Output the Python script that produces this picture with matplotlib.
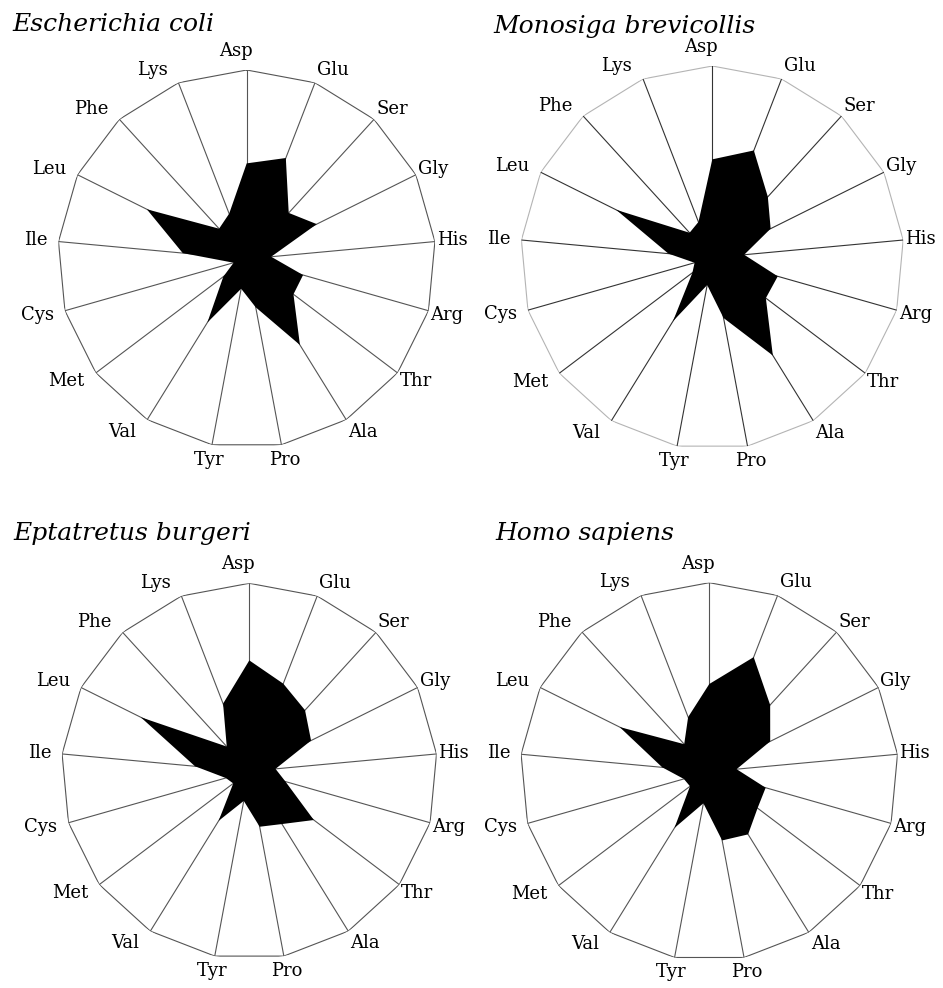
import numpy as np
import matplotlib
matplotlib.use("Agg")
import matplotlib.pyplot as plt

amino = ["Asp", "Glu", "Ser", "Gly", "His", "Arg", "Thr", "Ala", "Pro",
         "Tyr", "Val", "Met", "Cys", "Ile", "Leu", "Phe", "Lys"]

# relative composition (outer ring = 1)
ecoli = [0.506, 0.573, 0.33, 0.414, 0.13, 0.31, 0.31, 0.535, 0.26,
         0.16, 0.395, 0.155, 0.072, 0.34, 0.59, 0.217, 0.257]
monosiga = [0.513, 0.60, 0.43, 0.34, 0.167, 0.355, 0.35, 0.60, 0.32,
            0.145, 0.39, 0.13, 0.096, 0.23, 0.56, 0.176, 0.20]
eptatretus = [0.59, 0.50, 0.44, 0.367, 0.14, 0.20, 0.43, 0.33, 0.30,
              0.16, 0.31, 0.107, 0.13, 0.29, 0.645, 0.178, 0.386]
homo = [0.464, 0.65, 0.478, 0.36, 0.145, 0.31, 0.32, 0.39, 0.37,
        0.17, 0.35, 0.128, 0.14, 0.25, 0.53, 0.197, 0.31]

species = ["Escherichia coli", "Monosiga brevicollis",
           "Eptatretus burgeri", "Homo sapiens"]
data = [ecoli, monosiga, eptatretus, homo]

# axes boxes in pixels: center x, center y (from top), radius
W, H = 943, 988
boxes = [(246.7, 259.0, 189.0), (712.3, 257.7, 191.7),
         (249.3, 771.3, 188.0), (709.3, 771.7, 189.0)]
titles_xy = [(12, 31), (493, 33), (13, 540), (495, 540)]
ring_col = ["#555555", "#b4b4b4", "#555555", "#555555"]
spoke_col = ["#555555", "#333333", "#555555", "#555555"]

plt.rcParams['font.family'] = ['DejaVu Serif']

fig = plt.figure(figsize=(W / 100, H / 100), dpi=100)
fig.patch.set_facecolor("white")

n = len(amino)
theta = np.arange(n) * 2 * np.pi / n

for i in range(4):
    cx, cy, R = boxes[i]
    ax = fig.add_axes([(cx - R) / W, (H - cy - R) / H, 2 * R / W, 2 * R / H],
                      polar=True)
    ax.set_theta_offset(np.pi / 2)
    ax.set_theta_direction(-1)
    ax.set_ylim(0, 1)
    ax.grid(False)
    ax.set_xticks([])
    ax.set_yticks([])
    ax.spines['polar'].set_visible(False)
    ax.patch.set_alpha(0)

    tt = np.append(theta, theta[0])
    ax.plot(tt, np.ones(n + 1), color=ring_col[i], lw=0.8, zorder=1)
    for t in theta:
        ax.plot([t, t], [0, 1], color=spoke_col[i], lw=0.8, zorder=1)

    vals = np.array(data[i])
    ax.fill(tt, np.append(vals, vals[0]), color="black", lw=0, zorder=2)

    # labels sit just outside the ring vertex
    for t, lab in zip(theta, amino):
        sx, sy = np.sin(t), np.cos(t)
        if abs(sx) < 0.05:
            ha, dx, dy = 'center', -11, 19
        elif abs(sx) < 0.25:
            ha, dx, dy = 'center', 3 * np.sign(sx), 15 * sy
        elif sx > 0:
            ha, dx, dy = 'left', 2, 14 * sy
        else:
            ha, dx, dy = 'right', -11, 14 * sy
        ax.annotate(lab, xy=(t, 1.0), xytext=(dx, dy),
                    textcoords='offset pixels', ha=ha, va='center',
                    fontsize=13, annotation_clip=False)

    tx, ty = titles_xy[i]
    fig.text(tx / W, 1 - ty / H, species[i], fontsize=18, style='italic',
             ha='left', va='baseline')

fig.savefig("out.png", dpi=100)
